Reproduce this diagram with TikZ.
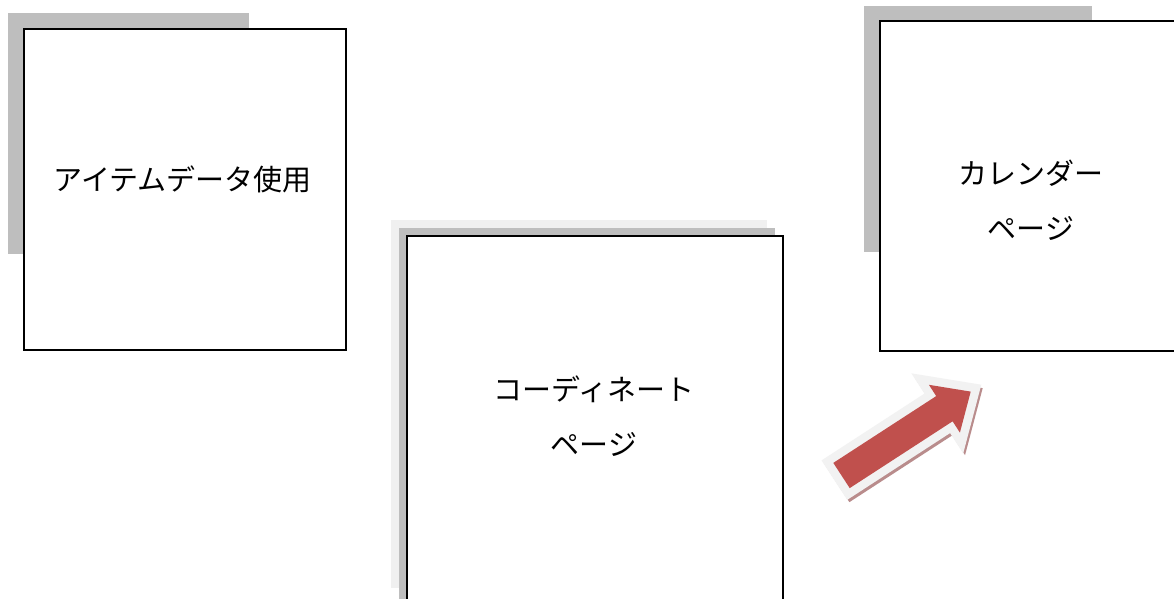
\documentclass[tikz,border=0pt]{standalone}
\usepackage{fontspec}
\newfontfamily\jp{Noto Sans CJK JP}
\definecolor{shadowgray}{RGB}{190,190,190}
\definecolor{lightgray2}{RGB}{240,240,240}
\definecolor{arrowred}{RGB}{192,80,77}
\definecolor{arrowrim}{RGB}{242,242,242}
\definecolor{arrowshade}{RGB}{185,140,140}
\begin{document}
\begin{tikzpicture}[x=1pt,y=-1pt,
  pagebox/.style={draw=black, line width=1.6pt, fill=white, rectangle, inner sep=0pt},
  shade1/.style={fill=shadowgray, draw=none},
  shade2/.style={fill=lightgray2, draw=none},
  label/.style={font=\jp\fontsize{29}{55}\selectfont, align=center, inner sep=0pt, anchor=center}
]
\clip (0,0) rectangle (1174,599);
\fill[white] (0,0) rectangle (1174,599);

% box 1
\fill[shade1] (8,13) rectangle (249,254);
\node[pagebox, minimum width=322pt, minimum height=321pt] (b1) at (185,189.5) {};
\node[label] (t1) at (182.5,179.5) {アイテムデータ使用};

% box 2
\fill[shade2] (391,220) rectangle (767,588);
\fill[shade1] (399,228) rectangle (775,640);
\node[pagebox, minimum width=376pt, minimum height=424pt] (b2) at (595,448) {};
\node[label] (t2) at (594,416) {コーディネート\\ページ};

% box 3
\fill[shade1] (864,6) rectangle (1092,252);
\node[pagebox, minimum width=310pt, minimum height=330pt] (b3) at (1035,186) {};
\node[label] (t3) at (1031,200) {カレンダー\\ページ};

% block arrow
\def\arrowpath{(833.3,462.9) -- (936.2,396.1) -- (928.9,384.8) -- (970.7,391.6) -- (959.9,432.6) -- (952.6,421.3) -- (849.7,488.1) -- cycle}
\begin{scope}[shift={(2,3)}]
  \filldraw[arrowshade, line width=16pt, line join=miter] \arrowpath;
\end{scope}
\filldraw[arrowrim, line width=17pt, line join=miter] \arrowpath;
\fill[arrowred] \arrowpath;
\end{tikzpicture}
\end{document}
